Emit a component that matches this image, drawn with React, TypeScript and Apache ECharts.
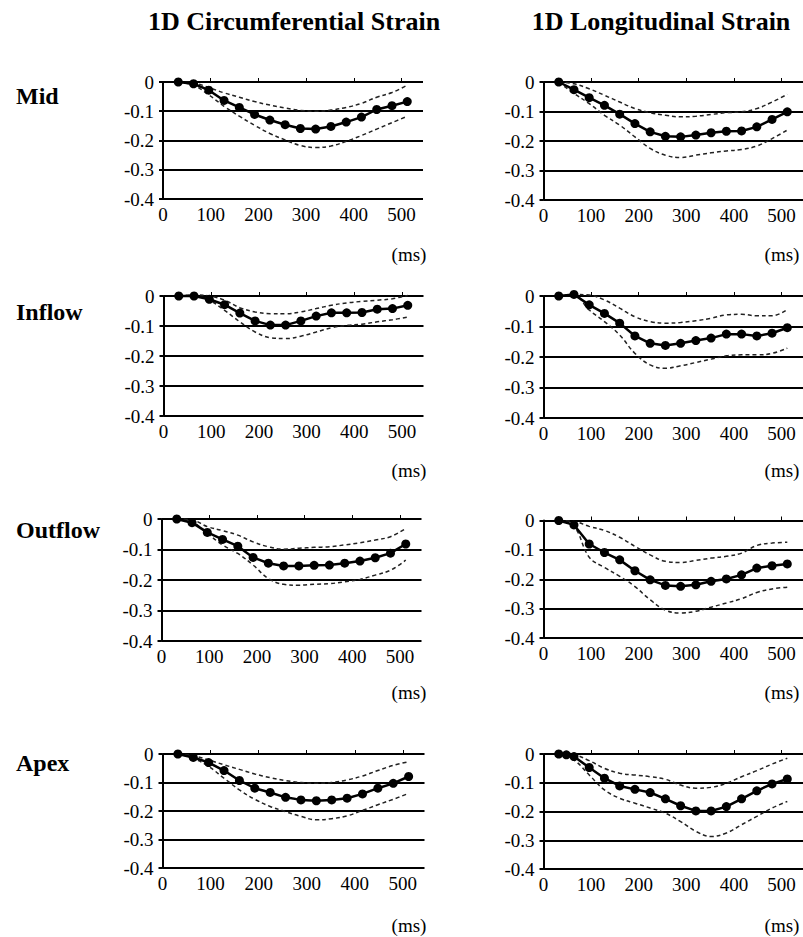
import React, { useEffect, useRef } from "react";
import * as echarts from "echarts";

// ---- data ----
const times = [32, 64, 96, 128, 160, 192, 224, 256, 288, 320, 352, 384, 416, 448, 480, 512];
const apexLongMeanTimes = [32, 48, 64, 96, 128, 160, 192, 224, 256, 288, 320, 352, 384, 416, 448, 480, 512];
const xTickLabels = [0, 100, 200, 300, 400, 500];
const columnTitles = ["1D Circumferential Strain", "1D Longitudinal Strain"];
const rowLabels = ["Mid", "Inflow", "Outflow", "Apex"];
const unitLabel = "(ms)";

const midCircMean = [0, -0.006, -0.028, -0.063, -0.087, -0.111, -0.13, -0.146, -0.159, -0.161, -0.152, -0.137, -0.12, -0.094, -0.081, -0.067];
const midCircUpper = [0, -0.003, -0.019, -0.037, -0.052, -0.067, -0.079, -0.089, -0.097, -0.1, -0.096, -0.087, -0.073, -0.052, -0.036, -0.011];
const midCircLower = [0, -0.011, -0.044, -0.083, -0.117, -0.148, -0.176, -0.198, -0.217, -0.224, -0.219, -0.203, -0.183, -0.161, -0.139, -0.117];

const midLongMean = [0, -0.026, -0.053, -0.079, -0.109, -0.141, -0.169, -0.184, -0.186, -0.18, -0.172, -0.167, -0.166, -0.152, -0.127, -0.101];
const midLongUpper = [0, -0.006, -0.023, -0.045, -0.068, -0.09, -0.104, -0.113, -0.118, -0.116, -0.11, -0.104, -0.101, -0.09, -0.068, -0.042];
const midLongLower = [0, -0.039, -0.073, -0.113, -0.146, -0.186, -0.225, -0.248, -0.256, -0.248, -0.24, -0.234, -0.229, -0.217, -0.192, -0.163];

const inflowCircMean = [0, 0, -0.011, -0.029, -0.057, -0.083, -0.097, -0.097, -0.083, -0.067, -0.056, -0.056, -0.055, -0.044, -0.042, -0.031];
const inflowCircUpper = [0, 0.004, 0, -0.014, -0.039, -0.053, -0.059, -0.059, -0.053, -0.042, -0.031, -0.023, -0.018, -0.014, -0.009, 0.002];
const inflowCircLower = [0, 0, -0.014, -0.048, -0.086, -0.12, -0.139, -0.142, -0.134, -0.12, -0.106, -0.098, -0.094, -0.086, -0.079, -0.07];

const inflowLongMean = [0, 0.005, -0.029, -0.057, -0.089, -0.131, -0.155, -0.162, -0.155, -0.146, -0.138, -0.125, -0.125, -0.131, -0.122, -0.104];
const inflowLongUpper = [0, 0.005, 0.003, -0.013, -0.04, -0.068, -0.084, -0.089, -0.087, -0.081, -0.073, -0.062, -0.06, -0.065, -0.065, -0.044];
const inflowLongLower = [0, 0.003, -0.046, -0.084, -0.128, -0.188, -0.226, -0.237, -0.229, -0.218, -0.207, -0.196, -0.193, -0.193, -0.188, -0.171];

const outflowCircMean = [0, -0.012, -0.044, -0.067, -0.089, -0.126, -0.145, -0.154, -0.154, -0.152, -0.151, -0.145, -0.138, -0.127, -0.112, -0.082];
const outflowCircUpper = [0, -0.003, -0.025, -0.038, -0.053, -0.075, -0.091, -0.099, -0.096, -0.093, -0.091, -0.085, -0.078, -0.069, -0.058, -0.031];
const outflowCircLower = [0, -0.009, -0.047, -0.085, -0.113, -0.151, -0.195, -0.214, -0.217, -0.214, -0.212, -0.206, -0.198, -0.184, -0.168, -0.135];

const outflowLongMean = [0, -0.015, -0.08, -0.109, -0.134, -0.171, -0.202, -0.221, -0.224, -0.219, -0.207, -0.199, -0.185, -0.162, -0.154, -0.148];
const outflowLongUpper = [0, -0.003, -0.02, -0.034, -0.057, -0.088, -0.117, -0.139, -0.143, -0.136, -0.128, -0.122, -0.111, -0.085, -0.077, -0.074];
const outflowLongLower = [0, -0.02, -0.125, -0.16, -0.19, -0.225, -0.27, -0.305, -0.315, -0.309, -0.295, -0.281, -0.266, -0.245, -0.233, -0.227];

const apexCircMean = [0, -0.012, -0.03, -0.058, -0.093, -0.12, -0.135, -0.152, -0.161, -0.164, -0.161, -0.155, -0.14, -0.12, -0.103, -0.079];
const apexCircUpper = [0, -0.006, -0.021, -0.038, -0.054, -0.07, -0.083, -0.093, -0.1, -0.103, -0.1, -0.091, -0.077, -0.058, -0.04, -0.027];
const apexCircLower = [0, -0.015, -0.044, -0.085, -0.126, -0.159, -0.184, -0.202, -0.219, -0.231, -0.227, -0.217, -0.198, -0.178, -0.159, -0.138];

const apexLongMean = [0, -0.003, -0.009, -0.047, -0.084, -0.111, -0.123, -0.134, -0.156, -0.18, -0.198, -0.198, -0.183, -0.156, -0.128, -0.104, -0.087];
const apexLongUpper = [0, -0.003, -0.023, -0.05, -0.067, -0.073, -0.079, -0.088, -0.108, -0.119, -0.116, -0.102, -0.079, -0.058, -0.035, -0.015];
const apexLongLower = [0, -0.021, -0.073, -0.125, -0.154, -0.171, -0.188, -0.206, -0.235, -0.269, -0.287, -0.275, -0.246, -0.217, -0.188, -0.165];

const panels = [
  { meanTimes: times, mean: midCircMean, upper: midCircUpper, lower: midCircLower },
  { meanTimes: times, mean: midLongMean, upper: midLongUpper, lower: midLongLower },
  { meanTimes: times, mean: inflowCircMean, upper: inflowCircUpper, lower: inflowCircLower },
  { meanTimes: times, mean: inflowLongMean, upper: inflowLongUpper, lower: inflowLongLower },
  { meanTimes: times, mean: outflowCircMean, upper: outflowCircUpper, lower: outflowCircLower },
  { meanTimes: times, mean: outflowLongMean, upper: outflowLongUpper, lower: outflowLongLower },
  { meanTimes: times, mean: apexCircMean, upper: apexCircUpper, lower: apexCircLower },
  { meanTimes: apexLongMeanTimes, mean: apexLongMean, upper: apexLongUpper, lower: apexLongLower },
];

// ---- layout ----
const LAYOUT = [
  { left: 163, top: 82, height: 117, width: 260 },
  { left: 543.5, top: 82, height: 118, width: 260 },
  { left: 163.5, top: 296, height: 120, width: 260 },
  { left: 543.5, top: 296, height: 122, width: 260 },
  { left: 161.5, top: 519, height: 122, width: 260 },
  { left: 543.5, top: 520.5, height: 117.5, width: 260 },
  { left: 162.5, top: 754, height: 114, width: 262 },
  { left: 543.5, top: 754, height: 115, width: 260 },
];
const TITLE_POS = [{ x: 294, y: 21 }, { x: 661, y: 21 }];
const ROW_LABEL_POS = [{ x: 16, y: 96 }, { x: 16, y: 312 }, { x: 16, y: 530 }, { x: 16, y: 763 }];
const UNIT_POS_Y = [254, 470, 692, 925];
const UNIT_POS_X = [409, 782];
const FONT = "Liberation Serif";
const X_MAX = 545;

export default function App() {
  const ref = useRef<HTMLDivElement>(null);
  useEffect(() => {
    if (!ref.current) return;
    const chart = echarts.init(ref.current, undefined, { renderer: "svg" });
    const grid: any[] = [];
    const xAxis: any[] = [];
    const yAxis: any[] = [];
    const series: any[] = [];
    const richLabel = { t: { fontFamily: FONT, fontSize: 19, color: "#000" } };
    panels.forEach((p, i) => {
      const L = LAYOUT[i];
      grid.push({ left: L.left, top: L.top, width: L.width, height: L.height, containLabel: false });
      xAxis.push({
        type: "value", gridIndex: i, position: "bottom", min: 0, max: X_MAX, interval: 100,
        axisLine: { show: false }, axisTick: { show: false }, splitLine: { show: false },
        axisLabel: {
          customValues: xTickLabels, margin: 6, color: "#000", fontFamily: "serif", fontSize: 19,
          formatter: (v: number) => String(v),
        },
      });
      xAxis.push({
        type: "value", gridIndex: i, position: "top", min: 0, max: X_MAX, interval: 100,
        axisLine: { show: false }, splitLine: { show: false }, axisLabel: { show: false },
        axisTick: { show: true, customValues: xTickLabels.slice(1), length: 4, inside: false, lineStyle: { color: "#000", width: 1 } },
      });
      yAxis.push({
        type: "value", gridIndex: i, min: -0.4, max: 0, interval: 0.1,
        axisLine: { show: true, onZero: false, lineStyle: { color: "#000", width: 2 } },
        axisTick: { show: true, length: 4, lineStyle: { color: "#000", width: 2 } },
        splitLine: { show: true, lineStyle: { color: "#000", width: 2 } },
        axisLabel: {
          margin: 9, rich: richLabel,
          formatter: (v: number) => "{t|" + (Math.abs(v) < 1e-9 ? "0" : v.toFixed(1)) + "}",
        },
      });
      const dashStyle = { color: "#222", width: 1.5, type: [4, 3] };
      [p.upper, p.lower].forEach((arr) => {
        series.push({
          type: "line", xAxisIndex: i * 2, yAxisIndex: i, data: times.map((t, k) => [t, arr[k]]),
          smooth: 0.4, showSymbol: false, symbol: "none", lineStyle: dashStyle, clip: false, z: 2,
        });
      });
      series.push({
        type: "line", xAxisIndex: i * 2, yAxisIndex: i, data: p.meanTimes.map((t, k) => [t, p.mean[k]]),
        symbol: "circle", symbolSize: 9, showSymbol: true, clip: false, z: 3,
        lineStyle: { color: "#000", width: 2.5 }, itemStyle: { color: "#000" },
      });
    });
    const graphic: any[] = [];
    columnTitles.forEach((t, i) => {
      graphic.push({
        type: "text", x: TITLE_POS[i].x, y: TITLE_POS[i].y,
        style: { text: t, fill: "#000", fontFamily: FONT, fontSize: 26, fontWeight: "bold", align: "center", verticalAlign: "middle" },
      });
    });
    rowLabels.forEach((t, i) => {
      graphic.push({
        type: "text", x: ROW_LABEL_POS[i].x, y: ROW_LABEL_POS[i].y,
        style: { text: t, fill: "#000", fontFamily: FONT, fontSize: 24, fontWeight: "bold", align: "left", verticalAlign: "middle" },
      });
      UNIT_POS_X.forEach((ux) => {
        graphic.push({
          type: "text", x: ux, y: UNIT_POS_Y[i],
          style: { text: unitLabel, fill: "#000", fontFamily: FONT, fontSize: 19, align: "center", verticalAlign: "middle" },
        });
      });
    });
    chart.setOption({
      animation: false, backgroundColor: "#fff",
      textStyle: { fontFamily: FONT, color: "#000" },
      grid, xAxis, yAxis, series, graphic,
    });
    return () => chart.dispose();
  }, []);
  return <div ref={ref} style={{ position: "fixed", left: 0, top: 0, width: 803, height: 937 }} />;
}
